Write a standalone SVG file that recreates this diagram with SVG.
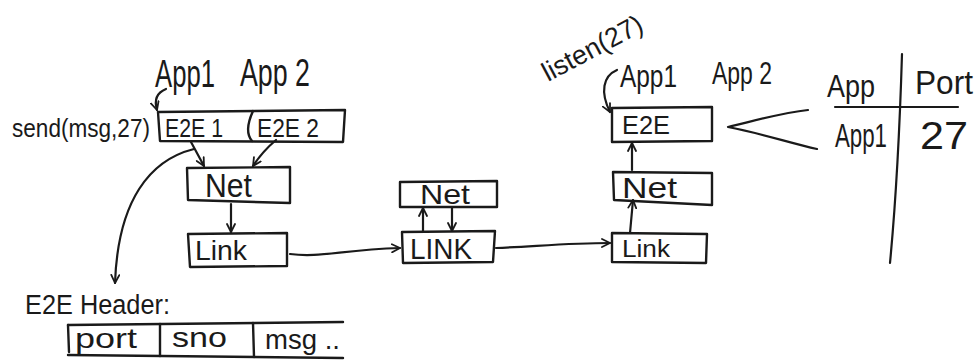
<svg xmlns="http://www.w3.org/2000/svg" width="979" height="362" viewBox="0 0 979 362">
  <defs>
    <marker id="chev" viewBox="0 0 10 10" refX="9" refY="5" markerWidth="10" markerHeight="10" markerUnits="userSpaceOnUse" orient="auto">
      <path d="M1,1 L9,5 L1,9" fill="none" stroke="#1a1a1a" stroke-width="1.8" stroke-linecap="round" stroke-linejoin="round"/>
    </marker>
    <style>
      .ink { fill: none; stroke: #1a1a1a; stroke-width: 2.4; stroke-linecap: round; stroke-linejoin: round; }
      .arrow { fill: none; stroke: #1a1a1a; stroke-width: 2.2; stroke-linecap: round; marker-end: url(#chev); }
      .line { fill: none; stroke: #1a1a1a; stroke-width: 2.2; stroke-linecap: round; stroke-linejoin: round; }
      text { font-family: "Liberation Sans", Arial, sans-serif; fill: #1a1a1a; }
    </style>
  </defs>
  <rect width="979" height="362" fill="#ffffff"/>

  <!-- sender host -->
  <g id="sender-apps">
    <text x="155" y="87" font-size="38" textLength="60" lengthAdjust="spacingAndGlyphs">App1</text>
    <text x="240" y="86" font-size="38" textLength="70" lengthAdjust="spacingAndGlyphs">App 2</text>
  </g>
  <g id="send-call">
    <text x="12" y="137" font-size="26" textLength="138" lengthAdjust="spacingAndGlyphs">send(msg,27)</text>
  </g>
  <g id="sender-e2e">
    <path class="ink" d="M158,112 L345,110 L343,142 L160,141 Z"/>
    <path class="ink" d="M253,111 C248,122 246,134 252,141"/>
    <text x="165" y="137" font-size="26" textLength="58" lengthAdjust="spacingAndGlyphs">E2E 1</text>
    <text x="257" y="137" font-size="26" textLength="62" lengthAdjust="spacingAndGlyphs">E2E 2</text>
  </g>
  <g id="sender-net">
    <path class="ink" d="M187,168 L290,167 L290,203 L188,200 Z"/>
    <text x="205" y="197" font-size="33" textLength="47" lengthAdjust="spacingAndGlyphs">Net</text>
  </g>
  <g id="sender-link">
    <path class="ink" d="M188,234 L287,233 L287,266 L190,267 Z"/>
    <text x="195" y="260" font-size="27" textLength="52" lengthAdjust="spacingAndGlyphs">Link</text>
  </g>

  <!-- header layout -->
  <g id="e2e-header">
    <text x="25" y="314" font-size="27" textLength="145" lengthAdjust="spacingAndGlyphs">E2E Header:</text>
    <path class="ink" d="M68,325 L343,322"/>
    <path class="ink" d="M68,355 L343,358"/>
    <path class="ink" d="M68,325 L69,352"/>
    <path class="ink" d="M160,324 L160,356"/>
    <path class="ink" d="M253,323 L254,357"/>
    <text x="75" y="348" font-size="28" textLength="62" lengthAdjust="spacingAndGlyphs">port</text>
    <text x="172" y="347" font-size="28" textLength="55" lengthAdjust="spacingAndGlyphs">sno</text>
    <text x="265" y="349" font-size="28" textLength="75" lengthAdjust="spacingAndGlyphs">msg ..</text>
  </g>

  <!-- router -->
  <g id="router-net">
    <path class="ink" d="M400,182 L497,181 L497,207 L400,207 Z"/>
    <text x="420" y="204" font-size="28" textLength="50" lengthAdjust="spacingAndGlyphs">Net</text>
  </g>
  <g id="router-link">
    <path class="ink" d="M402,232 L495,231 L493,262 L403,263 Z"/>
    <text x="410" y="259" font-size="29" textLength="62" lengthAdjust="spacingAndGlyphs">LINK</text>
  </g>

  <!-- receiver host -->
  <g id="listen-call">
    <text transform="translate(548,82) rotate(-28)" font-size="27" textLength="110" lengthAdjust="spacingAndGlyphs">listen(27)</text>
  </g>
  <g id="receiver-apps">
    <text x="620" y="87" font-size="32" textLength="57" lengthAdjust="spacingAndGlyphs">App1</text>
    <text x="712" y="84" font-size="32" textLength="60" lengthAdjust="spacingAndGlyphs">App 2</text>
  </g>
  <g id="receiver-e2e">
    <path class="ink" d="M612,108 L712,107 L712,141 L612,142 Z"/>
    <text x="622" y="134" font-size="25" textLength="48" lengthAdjust="spacingAndGlyphs">E2E</text>
  </g>
  <g id="receiver-net">
    <path class="ink" d="M613,172 L712,173 L712,205 L614,200 Z"/>
    <text x="622" y="198" font-size="30" textLength="55" lengthAdjust="spacingAndGlyphs">Net</text>
  </g>
  <g id="receiver-link">
    <path class="ink" d="M612,233 L707,234 L706,263 L612,262 Z"/>
    <text x="622" y="257" font-size="23" textLength="48" lengthAdjust="spacingAndGlyphs">Link</text>
  </g>

  <!-- port table -->
  <g id="port-table">
    <path class="line" d="M835,107 L958,107"/>
    <path class="line" d="M902,54 C900,120 896,200 890,263"/>
    <text x="827" y="97" font-size="32" textLength="48" lengthAdjust="spacingAndGlyphs">App</text>
    <text x="915" y="94" font-size="34" textLength="58" lengthAdjust="spacingAndGlyphs">Port</text>
    <text x="835" y="147" font-size="34" textLength="52" lengthAdjust="spacingAndGlyphs">App1</text>
    <text x="920" y="149" font-size="38" textLength="48" lengthAdjust="spacingAndGlyphs">27</text>
  </g>

  <g id="connectors">
    <path class="arrow" d="M166,89 C156,93 154,100 157,110"/>
    <path class="arrow" d="M191,142 Q198,155 204,166"/>
    <path class="arrow" d="M276,140 Q262,152 253,166"/>
    <path class="arrow" d="M231,204 L231,232"/>
    <path class="arrow" d="M194,149 C150,160 118,200 115,283"/>
    <path class="arrow" d="M290,254 C320,258 340,250 400,248"/>
    <path class="arrow" d="M423,231 L423,208"/>
    <path class="arrow" d="M452,208 L452,231"/>
    <path class="arrow" d="M496,248 C540,246 570,243 610,243"/>
    <path class="arrow" d="M630,233 L633,200"/>
    <path class="arrow" d="M632,170 L632,143"/>
    <path class="arrow" d="M617,70 C603,76 600,92 610,112"/>
    <path class="line" d="M808,110 C780,113 750,122 728,127 C760,133 790,143 817,149"/>
  </g>
</svg>
